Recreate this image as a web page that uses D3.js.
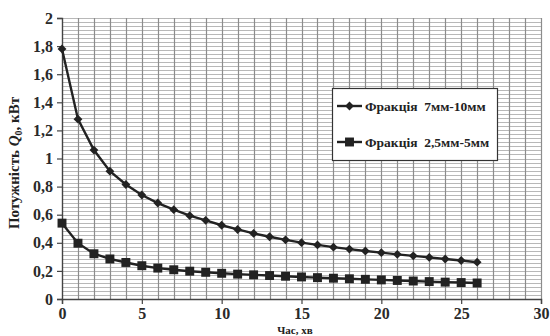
<!DOCTYPE html>
<html>
<head>
<meta charset="utf-8">
<script src="https://cdn.jsdelivr.net/npm/d3@7"></script>
<style>
  body { margin: 0; background: #fff; }
</style>
</head>
<body>
<div id="chart"></div>
<script>
// Data
var times = [0, 1, 2, 3, 4, 5, 6, 7, 8, 9, 10, 11, 12, 13, 14, 15, 16, 17, 18, 19, 20, 21, 22, 23, 24, 25, 26]
var fraction7to10 = [1.78, 1.28, 1.06, 0.91, 0.815, 0.74, 0.683, 0.636, 0.593, 0.56, 0.525, 0.495, 0.467, 0.443, 0.421, 0.401, 0.385, 0.369, 0.355, 0.342, 0.33, 0.318, 0.307, 0.296, 0.285, 0.274, 0.262]
var fraction25to5 = [0.54, 0.397, 0.322, 0.285, 0.26, 0.237, 0.22, 0.208, 0.198, 0.19, 0.183, 0.177, 0.172, 0.167, 0.162, 0.157, 0.152, 0.148, 0.144, 0.14, 0.136, 0.132, 0.128, 0.124, 0.12, 0.117, 0.114]
var xTicks = [0, 5, 10, 15, 20, 25, 30]
var yTicks = [0, 0.2, 0.4, 0.6, 0.8, 1, 1.2, 1.4, 1.6, 1.8, 2]
var seriesNames = ['Фракція  7мм-10мм', 'Фракція  2,5мм-5мм']

var width = 550
var height = 336
var serif = 'Liberation Serif'

var svg = d3.select('#chart')
  .append('svg')
  .attr('width', width)
  .attr('height', height)
  .attr('font-family', serif)

var xScale = d3.scaleLinear()
  .domain([0, 30])
  .range([62, 541])

var yScale = d3.scaleLinear()
  .domain([0, 2])
  .range([299, 18])

// minor horizontal grid
svg.append('g')
  .selectAll('line')
  .data(d3.range(0, 2.0001, 0.2 / 7))
  .enter()
  .append('line')
  .attr('x1', xScale(0))
  .attr('x2', xScale(30))
  .attr('y1', d => Math.round(yScale(d)) + 0.5)
  .attr('y2', d => Math.round(yScale(d)) + 0.5)
  .attr('stroke', '#b8b8b8')
  .attr('stroke-width', 1.2)

// vertical grid, every minute
svg.append('g')
  .selectAll('line')
  .data(d3.range(1, 31))
  .enter()
  .append('line')
  .attr('x1', d => Math.round(xScale(d)) + 0.5)
  .attr('x2', d => Math.round(xScale(d)) + 0.5)
  .attr('y1', yScale(2))
  .attr('y2', yScale(0))
  .attr('stroke', '#8c8c8c')
  .attr('stroke-width', 1.2)

// Axes
var xAxis = d3.axisBottom(xScale)
  .tickValues(xTicks)
  .tickSize(5)
  .tickFormat(d => d)

var yAxis = d3.axisLeft(yScale)
  .tickValues(yTicks)
  .tickSize(5)
  .tickFormat(d => String(d).replace('.', ','))

svg.append('g')
  .attr('transform', `translate(0,${yScale(0)})`)
  .call(xAxis)
  .attr('font-family', serif)
  .call(g => g.select('.domain').attr('stroke', '#444').attr('stroke-width', 1.4))
  .call(g => g.selectAll('.tick line').attr('stroke', '#444').attr('stroke-width', 1.2))
  .selectAll('text')
  .attr('y', 9)
  .attr('dy', '0.71em')
  .attr('font-family', serif)
  .style('font-size', '16px')
  .style('font-weight', 'bold')
  .attr('fill', '#2a2a2a')

svg.append('g')
  .attr('transform', `translate(${xScale(0)},0)`)
  .call(yAxis)
  .attr('font-family', serif)
  .call(g => g.select('.domain').attr('stroke', '#444').attr('stroke-width', 1.4))
  .call(g => g.selectAll('.tick line').attr('stroke', '#444').attr('stroke-width', 1.2))
  .selectAll('text')
  .attr('x', -9)
  .attr('font-family', serif)
  .style('font-size', '16px')
  .style('font-weight', 'bold')
  .attr('fill', '#2a2a2a')

// Lines
var line = d3.line()
  .x((d, i) => xScale(times[i]))
  .y(d => yScale(d))

svg.append('path')
  .datum(fraction7to10)
  .attr('d', line)
  .attr('fill', 'none')
  .attr('stroke', '#222')
  .attr('stroke-width', 2.4)

svg.append('path')
  .datum(fraction25to5)
  .attr('d', line)
  .attr('fill', 'none')
  .attr('stroke', '#222')
  .attr('stroke-width', 2.4)

var diamond = d3.symbol().type(d3.symbolDiamond2).size(50)
var square = d3.symbol().type(d3.symbolSquare).size(80)

svg.append('g')
  .selectAll('path')
  .data(fraction7to10)
  .enter()
  .append('path')
  .attr('d', diamond)
  .attr('transform', (d, i) => `translate(${xScale(times[i])},${yScale(d)})`)
  .attr('fill', '#222')

svg.append('g')
  .selectAll('path')
  .data(fraction25to5)
  .enter()
  .append('path')
  .attr('d', square)
  .attr('transform', (d, i) => `translate(${xScale(times[i])},${yScale(d)})`)
  .attr('fill', '#222')

// Axis titles
svg.append('text')
  .attr('x', 295)
  .attr('y', 334)
  .attr('text-anchor', 'middle')
  .attr('font-family', serif)
  .style('font-size', '11px')
  .style('font-weight', 'bold')
  .attr('fill', '#222')
  .text('Час, хв')

var yTitle = svg.append('text')
  .attr('transform', 'translate(19,163) rotate(-90)')
  .attr('text-anchor', 'middle')
  .attr('font-family', serif)
  .style('font-size', '15px')
  .style('font-weight', 'bold')
  .attr('fill', '#222')
yTitle.append('tspan').text('Потужність ')
yTitle.append('tspan').style('font-style', 'italic').text('Q')
yTitle.append('tspan').attr('dy', 3).style('font-size', '10px').text('0')
yTitle.append('tspan').attr('dy', -3).text(', кВт')

// Legend
var legend = svg.append('g')

legend.append('rect')
  .attr('x', 332.5)
  .attr('y', 88.5)
  .attr('width', 165)
  .attr('height', 72)
  .attr('fill', '#fff')
  .attr('stroke', '#333')
  .attr('stroke-width', 1.2)

var legendRows = [
  { name: seriesNames[0], sym: diamond, y: 106 },
  { name: seriesNames[1], sym: square, y: 142 }
]

legendRows.forEach(r => {
  legend.append('line')
    .attr('x1', 337).attr('x2', 362)
    .attr('y1', r.y).attr('y2', r.y)
    .attr('stroke', '#222')
    .attr('stroke-width', 2.4)
  legend.append('path')
    .attr('d', r.sym)
    .attr('transform', `translate(349.5,${r.y})`)
    .attr('fill', '#222')
  legend.append('text')
    .attr('x', 365)
    .attr('y', r.y + 4.5)
    .attr('font-family', serif)
    .style('font-size', '13.5px')
    .style('font-weight', 'bold')
    .style('white-space', 'pre')
    .attr('fill', '#222')
    .text(r.name)
})
</script>
</body>
</html>
